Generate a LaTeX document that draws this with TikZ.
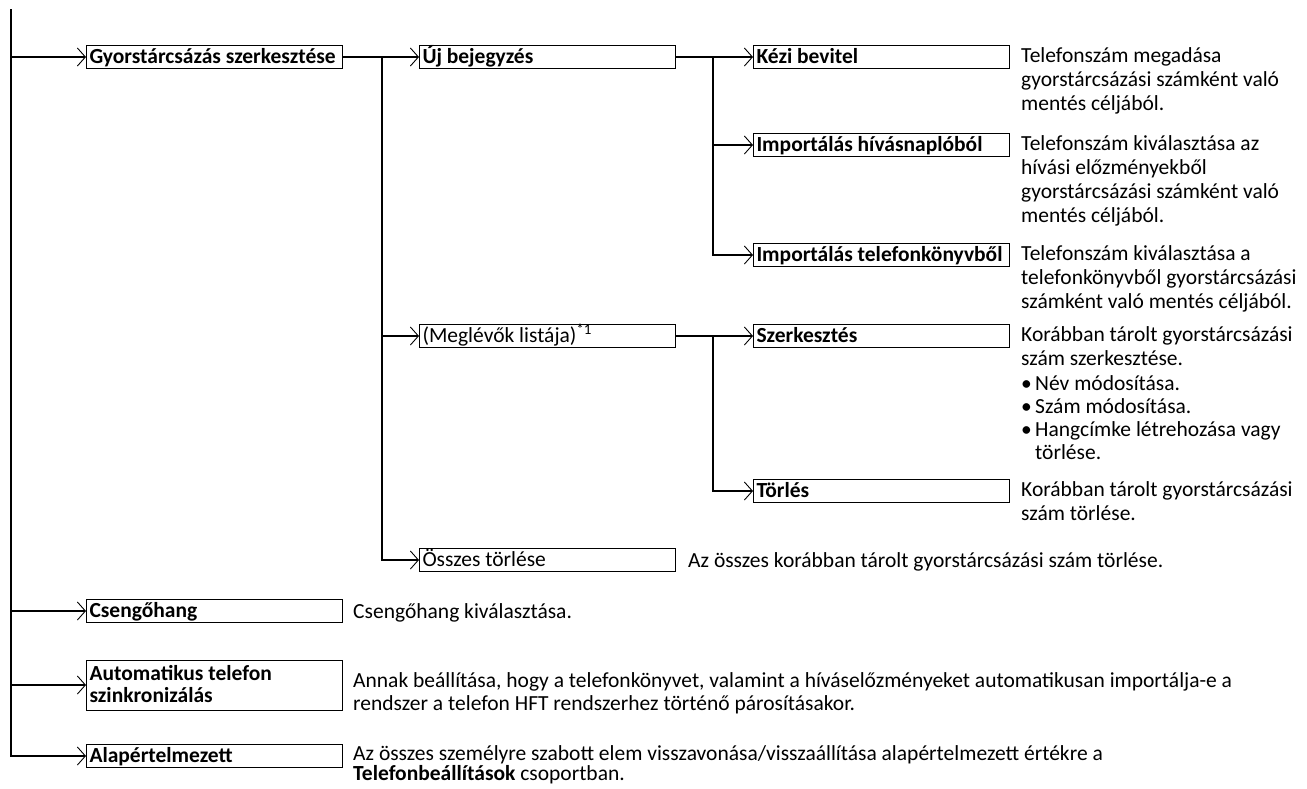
\documentclass[tikz,border=0pt]{standalone}
\usepackage{fontspec}
\setmainfont{Carlito}
\usetikzlibrary{arrows.meta, positioning}

\begin{document}
\begin{tikzpicture}[
  x=1pt, y=-1pt,
  font=\fontsize{21.5}{24}\selectfont,
  box/.style={draw, line width=1pt, anchor=west, minimum height=23pt, text width=250pt, inner xsep=3pt, inner ysep=0pt, align=flush left, font=\fontsize{21.5}{22}\selectfont\bfseries,
    execute at begin node={\rule{0pt}{17.5pt}}, execute at end node={\rule[-5.5pt]{0pt}{5.5pt}}},
  plainbox/.style={box, font=\fontsize{21.5}{22}\selectfont},
  desc/.style={anchor=north west, inner sep=0pt, align=flush left, execute at begin node=\strut},
  line/.style={line width=1.8pt},
  arrow/.style={line, -{Straight Barb[length=8pt, width=18pt, line width=0.9pt]}}
]
\useasboundingbox (0,0) rectangle (1307,788);

\coordinate (trunk) at (11,9);

% first level
\node[box] (gyors) at (86,57) {Gyorstárcsázás szerkesztése};
\node[box] (csengo) at (86,611) {Csengőhang};
\node[box, minimum height=50pt] (auto) at (86,685) {Automatikus telefon\\szinkronizálás};
\node[box] (alap) at (86,756) {Alapértelmezett};

% second level
\node[box] (uj) at (419,57) {Új bejegyzés};
\node[plainbox] (meglevok) at (419,336) {(Meglévők listája)\textsuperscript{*1}};
\node[plainbox] (osszes) at (419,560) {Összes törlése};

% third level
\node[box] (kezi) at (753,57) {Kézi bevitel};
\node[box] (hivas) at (753,145) {Importálás hívásnaplóból};
\node[box] (konyv) at (753,255) {Importálás telefonkönyvből};
\node[box] (szerk) at (753,336) {Szerkesztés};
\node[box] (torles) at (753,491) {Törlés};

% descriptions
\node[desc] (kezi-d) at (1021,47) {Telefonszám megadása\\gyorstárcsázási számként való\\mentés céljából.};
\node[desc] (hivas-d) at (1021,135) {Telefonszám kiválasztása az\\hívási előzményekből\\gyorstárcsázási számként való\\mentés céljából.};
\node[desc] (konyv-d) at (1021,245) {Telefonszám kiválasztása a\\telefonkönyvből gyorstárcsázási\\számként való mentés céljából.};
\node[desc] (szerk-d) at (1021,326) {Korábban tárolt gyorstárcsázási\\szám szerkesztése.\\[1pt]
  \makebox[14pt][l]{\textbullet}Név módosítása.\\[-1pt]
  \makebox[14pt][l]{\textbullet}Szám módosítása.\\[-1pt]
  \makebox[14pt][l]{\textbullet}Hangcímke létrehozása vagy\\[-1pt]
  \hspace*{14pt}törlése.};
\node[desc] (torles-d) at (1021,481) {Korábban tárolt gyorstárcsázási\\szám törlése.};
\node[desc] (osszes-d) at (688,550) {Az összes korábban tárolt gyorstárcsázási szám törlése.};
\node[desc] (csengo-d) at (353,601) {Csengőhang kiválasztása.};
\node[desc] (auto-d) at (353,672) {Annak beállítása, hogy a telefonkönyvet, valamint a híváselőzményeket automatikusan importálja-e a\\[-1pt]rendszer a telefon HFT rendszerhez történő párosításakor.};
\node[desc] (alap-d) at (353,745) {Az összes személyre szabott elem visszavonása/visszaállítása alapértelmezett értékre a\\[-4pt]\textbf{Telefonbeállítások} csoportban.};

% trunk
\draw[arrow] (trunk |- gyors.west) -- (gyors.west);
\draw[arrow] (trunk |- csengo.west) -- (csengo.west);
\draw[arrow] (trunk |- auto.west) -- (auto.west);
\draw[arrow] (trunk) |- (alap.west);

% branches
\coordinate (b1) at (382,57);
\coordinate (b2) at (713,57);
\coordinate (b3) at (713,336);
\draw[arrow] (gyors) -- (uj);
\draw[arrow] (b1) |- (meglevok.west);
\draw[arrow] (b1) |- (osszes.west);
\draw[arrow] (uj) -- (kezi);
\draw[arrow] (b2) |- (hivas.west);
\draw[arrow] (b2) |- (konyv.west);
\draw[arrow] (meglevok) -- (szerk);
\draw[arrow] (b3) |- (torles.west);
\end{tikzpicture}
\end{document}
